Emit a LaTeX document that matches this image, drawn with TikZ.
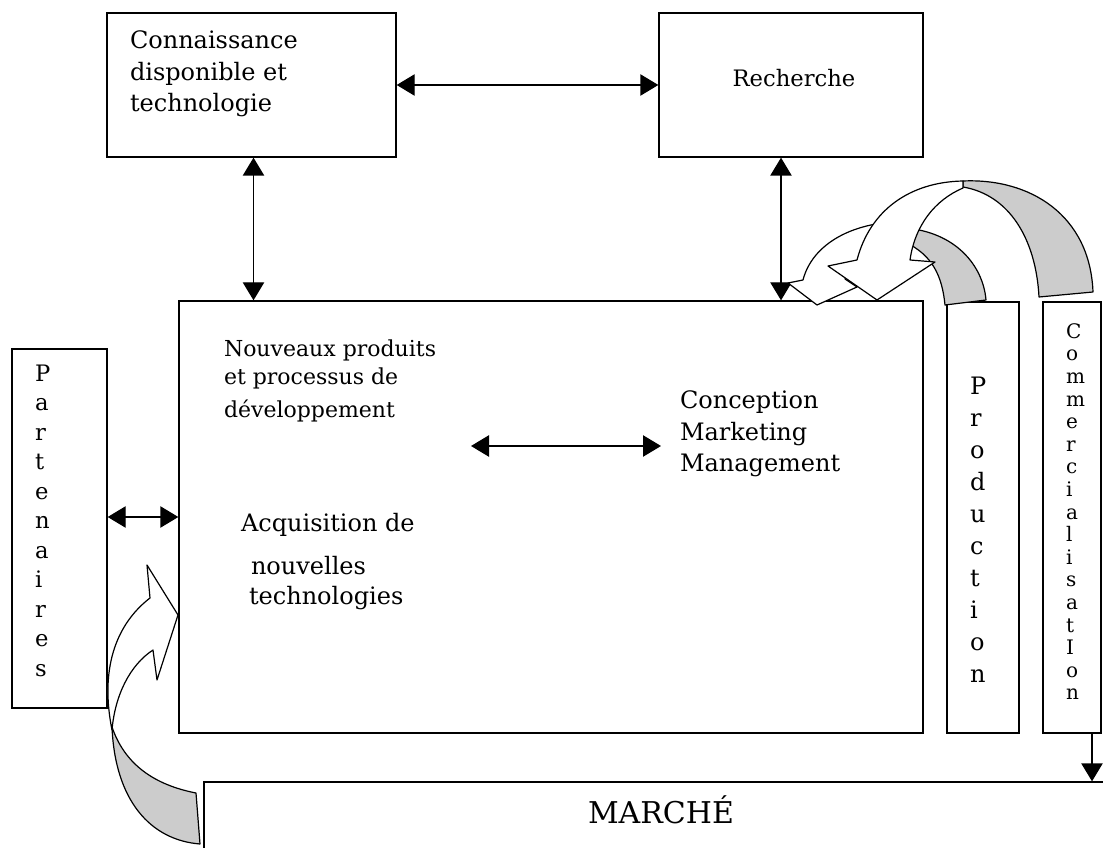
\documentclass[tikz,border=0pt]{standalone}
\usepackage{fontspec}
\setmainfont{DejaVu Serif}
\usetikzlibrary{arrows.meta,calc}
\begin{document}
\begin{tikzpicture}[x=0.75pt,y=-0.75pt,
  box/.style={draw, line width=1pt, inner sep=0pt},
  txt/.style={inner sep=0pt, outer sep=0pt},
  tip/.tip={Triangle[length=13.5pt,width=16pt]},
  dbl/.style={line width=1pt, tip-tip},
  sgl/.style={line width=1pt, -tip},
  ribbon/.style={draw, line width=0.9pt, line join=round, fill=white},
  ribbonback/.style={ribbon, fill=gray!40}]
\useasboundingbox (0,0) rectangle (1103,848);
\clip (0,0) rectangle (1103,848);

% boxes
\node[box, minimum width=289*0.75pt, minimum height=144*0.75pt] (know) at (251.5,85) {};
\node[box, minimum width=264*0.75pt, minimum height=144*0.75pt] (rech) at (791,85) {};
\node[box, minimum width=744*0.75pt, minimum height=432*0.75pt] (dev) at (551,517) {};
\node[box, minimum width=72*0.75pt, minimum height=431*0.75pt] (prod) at (983,517.5) {};
\node[box, minimum width=58*0.75pt, minimum height=431*0.75pt] (comm) at (1072,517.5) {};
\node[box, minimum width=95*0.75pt, minimum height=359*0.75pt] (part) at (59.5,528.5) {};
\node[box, minimum width=926*0.75pt, minimum height=118*0.75pt] (market) at (667,841) {};

% texts
\node[txt, anchor=north west, align=left, font=\fontsize{18}{23.6}\selectfont] (know-t) at (130,31)
  {Connaissance\\disponible et\\technologie};
\node[txt, anchor=base, font=\fontsize{17}{20}\selectfont] (rech-t) at (794,87) {Recherche};
\node[txt, anchor=north west, align=left, font=\fontsize{16.5}{21}\selectfont] (dev-t) at (224,340)
  {Nouveaux produits\\et processus de\\[3.5pt]développement};
\node[txt, anchor=north west, align=left, font=\fontsize{18}{23.6}\selectfont] (conc-t) at (680,391)
  {Conception\\Marketing\\Management};
\node[txt, anchor=north west, align=left, font=\fontsize{18}{22.5}\selectfont] (acq-t) at (241,513)
  {Acquisition de\\[9.75pt]\hspace*{7.5pt}nouvelles\\\hspace*{6pt}technologies};
\node[txt, anchor=base, font=\fontsize{22.5}{27}\selectfont] (market-t) at (661,823) {MARCHÉ};
\node[txt, anchor=north west, align=left, font=\fontsize{17}{22.1}\selectfont] (part-t) at (35,365)
  {P\\a\\r\\t\\e\\n\\a\\i\\r\\e\\s};
\node[txt, anchor=north west, align=left, font=\fontsize{18}{24}\selectfont] (prod-t) at (970,377.5)
  {P\\r\\o\\d\\u\\c\\t\\i\\o\\n};
\node[txt, anchor=north west, align=left, font=\fontsize{15}{16.95}\selectfont] (comm-t) at (1066,323.4)
  {C\\o\\m\\m\\e\\r\\c\\i\\a\\l\\i\\s\\a\\t\\I\\o\\n};

% attachment points of the vertical connectors
\coordinate (know-foot) at ($(know.south)+(2,0)$);
\coordinate (rech-foot) at ($(rech.south)+(-10,0)$);
\coordinate (comm-foot) at ($(comm.south)+(20,0)$);
\coordinate (mid-l) at (471,446);
\coordinate (mid-r) at (661,446);

% straight connectors
\draw[dbl] (know.east) -- (rech.west);
\draw[dbl] (know-foot) -- (know-foot |- dev.north);
\draw[dbl] (rech-foot) -- (rech-foot |- dev.north);
\draw[dbl] (dev.west -| part.east) -- (dev.west);
\draw[dbl] (mid-l) -- (mid-r);
\draw[sgl] (comm-foot) -- (comm-foot |- market.north);

% curved arrow from Production back to the development box
\draw[ribbonback] (945,305) .. controls (942,275) and (932,255) .. (905,242)
  -- (905,228) .. controls (955,232) and (983,265) .. (986,300) -- cycle;
\draw[ribbon] (895,222) .. controls (850,224) and (812,245) .. (803,280)
  -- (788,283) -- (817,305) -- (857,287) -- (845,279)
  .. controls (850,262) and (870,250) .. (905,244) -- cycle;

% curved arrow from Commercialisation back to the development box
\draw[ribbonback] (1039,297) .. controls (1036,240) and (1010,195) .. (963,187)
  -- (963,181) .. controls (1030,178) and (1090,215) .. (1093,292) -- cycle;
\draw[ribbon] (963,181) .. controls (910,182) and (870,210) .. (857,260)
  -- (828,266) -- (877,300) -- (935,262) -- (910,260)
  .. controls (915,225) and (935,200) .. (963,188) -- cycle;

% curved arrow from the market to the development box
\draw[ribbonback] (112,727) .. controls (125,765) and (155,785) .. (196,793)
  -- (200,844) .. controls (150,840) and (115,800) .. (112,727) -- cycle;
\draw[ribbon] (112,730) .. controls (100,670) and (115,625) .. (150,598)
  -- (147,565) -- (178,615) -- (157,680) -- (153,650)
  .. controls (130,665) and (115,695) .. (112,730) -- cycle;
\end{tikzpicture}
\end{document}
